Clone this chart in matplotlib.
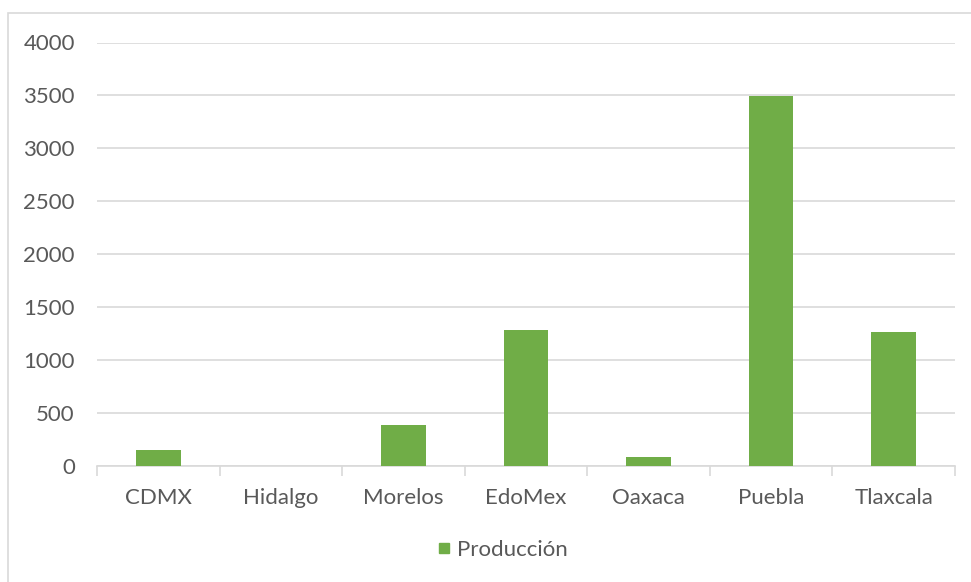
import matplotlib
matplotlib.use("Agg")
import matplotlib.pyplot as plt
from matplotlib.patches import Rectangle
from matplotlib.lines import Line2D

categories = ["CDMX", "Hidalgo", "Morelos", "EdoMex", "Oaxaca", "Puebla", "Tlaxcala"]
produccion = [155, 0, 388, 1280, 85, 3490, 1262]
series_name = "Producción"
yticks = [0, 500, 1000, 1500, 2000, 2500, 3000, 3500, 4000]

plt.rcParams['font.family'] = ['Lato', 'DejaVu Sans']
W, H = 971, 582
fig = plt.figure(figsize=(W / 100, H / 100), dpi=100)

# chart border (top and left visible)
fig.patches.append(Rectangle((8 / W, -0.1), 1.2, 1 - 13 / H + 0.1, transform=fig.transFigure,
                             fill=False, edgecolor="#d9d9d9", linewidth=1.2, zorder=0))

ax = fig.add_axes([97 / W, 1 - 466 / H, (955 - 97) / W, (466 - 42.5) / H])
x = list(range(len(categories)))
ax.bar(x, produccion, width=0.364, color="#70ad47", zorder=3)
ax.set_xlim(-0.5, len(categories) - 0.5)
ax.set_ylim(0, 4000)
ax.set_yticks(yticks)
ax.set_yticklabels([str(v) for v in yticks])
ax.set_xticks(x)
ax.set_xticklabels(categories)
ax.set_xticks([i - 0.5 for i in range(len(categories) + 1)], minor=True)
ax.tick_params(axis="x", which="major", length=0, pad=16, labelsize=16, labelcolor="#595959")
ax.tick_params(axis="x", which="minor", length=7, width=1.2, color="#d9d9d9")
ax.tick_params(axis="y", length=0, pad=16, labelsize=16, labelcolor="#595959")
ax.grid(axis="y", color="#d9d9d9", linewidth=1.2, zorder=0)
ax.set_axisbelow(True)
for s in ["top", "right", "left"]:
    ax.spines[s].set_visible(False)
ax.spines["bottom"].set_color("#d9d9d9")
ax.spines["bottom"].set_linewidth(1.2)

handle = Line2D([], [], marker="s", linestyle="none", markersize=7.5,
                markerfacecolor="#70ad47", markeredgecolor="#70ad47")
fig.legend([handle], [series_name], loc="center", bbox_to_anchor=(0.5165, 1 - 550 / H),
           frameon=False, fontsize=16, labelcolor="#595959", handletextpad=0.2,
           handlelength=0.8)

fig.savefig("out.png", dpi=100)
